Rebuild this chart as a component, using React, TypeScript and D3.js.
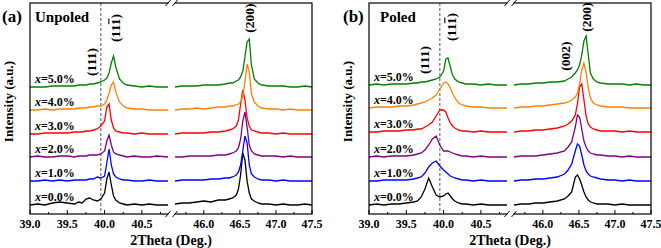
import React from 'react';
import * as d3 from 'd3';

// 2theta sampling points of the two axis segments (denser around the peaks)
const leftTheta = [39.0, 39.1, 39.2, 39.3, 39.4, 39.5, 39.6, 39.65, 39.7, 39.75, 39.8, 39.85, 39.9, 39.95,
  40.0, 40.03, 40.06, 40.09, 40.12, 40.15, 40.2, 40.25, 40.3, 40.4, 40.5, 40.6, 40.7, 40.85];
const rightTheta = [45.6, 45.7, 45.8, 45.9, 46.0, 46.1, 46.2, 46.3, 46.35, 46.4, 46.45, 46.48, 46.51, 46.54,
  46.57, 46.6, 46.63, 46.66, 46.7, 46.75, 46.8, 46.9, 47.0, 47.1, 47.2, 47.3, 47.4, 47.5];

const concentrations = ['0.0', '1.0', '2.0', '3.0', '4.0', '5.0'];
const colors = ['#000000', '#0000ff', '#800080', '#ff0000', '#ff8000', '#008000'];

const leftTicks = [39.0, 39.5, 40.0, 40.5];
const leftMinor = [39.25, 39.75, 40.25, 40.75];
const rightTicks = [46.0, 46.5, 47.0, 47.5];
const rightMinor = [45.75, 46.25, 46.75, 47.25];

// stacking offsets (a.u.)
const unpoledOffsets = [9, 33, 57, 80, 104, 127];
const poledOffsets = [9, 33, 57, 82, 106, 129];

const unpoledLeft = [
  [0, 1, 0, 2, 3, 2, 1, 3, 2, 6, 7, 5, 4, 6, 12, 26, 33, 20, 9, 5, 2, 1, 0, 1, 0, 1, 0, 0],
  [0, 0, 1, 0, 1, 0, 1, 1, 1, 1, 2, 2, 4, 3, 5, 18, 32, 16, 7, 4, 2, 1, 1, 0, 0, 1, 0, 0],
  [0, 1, 0, 0, 1, 1, 0, 1, 1, 1, 2, 2, 2, 3, 6, 16, 22, 12, 5, 3, 2, 1, 0, 1, 0, 0, 1, 0],
  [0, 0, 1, 1, 1, 1, 2, 2, 2, 3, 3, 4, 5, 8, 13, 27, 30, 14, 6, 3, 2, 1, 1, 0, 1, 0, 0, 0],
  [0, 0, 1, 0, 1, 1, 1, 2, 2, 2, 3, 3, 4, 4, 6, 10, 17, 25, 28, 18, 8, 4, 2, 1, 1, 0, 0, 0],
  [0, 0, 0, 1, 1, 1, 1, 2, 2, 2, 3, 3, 4, 5, 7, 9, 14, 24, 31, 20, 8, 4, 2, 1, 0, 1, 0, 0],
];
const unpoledRight = [
  [1, 2, 2, 3, 4, 3, 5, 5, 6, 7, 10, 16, 30, 52, 45, 24, 12, 6, 4, 2, 1, 1, 0, 1, 0, 0, 1, 0],
  [0, 1, 1, 1, 1, 2, 2, 3, 3, 4, 6, 9, 16, 30, 45, 38, 16, 7, 4, 2, 1, 1, 0, 1, 0, 0, 0, 0],
  [0, 0, 1, 1, 1, 1, 2, 2, 3, 4, 6, 9, 18, 36, 45, 30, 12, 6, 3, 2, 1, 1, 1, 0, 1, 0, 0, 0],
  [0, 1, 1, 1, 1, 2, 2, 3, 4, 5, 8, 14, 30, 44, 34, 16, 8, 4, 3, 2, 1, 1, 0, 1, 0, 0, 0, 0],
  [0, 1, 1, 2, 1, 2, 3, 3, 4, 4, 5, 6, 8, 14, 28, 46, 38, 16, 8, 4, 2, 1, 1, 0, 1, 0, 0, 0],
  [0, 1, 1, 1, 2, 2, 2, 3, 4, 4, 6, 7, 10, 16, 30, 45, 48, 22, 8, 4, 2, 1, 1, 1, 0, 0, 1, 0],
];
const poledLeft = [
  [0, 1, 0, 1, 1, 2, 3, 4, 8, 16, 27, 18, 10, 8, 9, 11, 12, 9, 6, 4, 2, 1, 1, 0, 1, 0, 0, 0],
  [0, 0, 1, 1, 1, 1, 2, 3, 4, 8, 14, 18, 20, 15, 11, 9, 7, 5, 4, 3, 2, 1, 1, 0, 1, 0, 0, 0],
  [0, 1, 0, 1, 1, 1, 2, 3, 4, 7, 12, 18, 21, 12, 6, 6, 6, 5, 4, 3, 2, 1, 1, 0, 1, 0, 0, 0],
  [0, 0, 1, 1, 1, 2, 2, 3, 3, 5, 7, 10, 16, 22, 22, 20, 14, 9, 6, 4, 2, 1, 1, 0, 1, 0, 0, 0],
  [0, 1, 1, 1, 2, 2, 3, 4, 5, 6, 8, 10, 13, 19, 25, 26, 24, 20, 15, 10, 5, 3, 2, 1, 1, 0, 0, 0],
  [0, 1, 0, 1, 1, 1, 2, 2, 3, 3, 4, 5, 6, 8, 14, 26, 27, 18, 10, 6, 3, 2, 1, 1, 0, 1, 0, 0],
];
const poledRight = [
  [0, 1, 1, 2, 2, 3, 4, 6, 9, 13, 28, 30, 26, 20, 13, 8, 5, 3, 2, 1, 1, 1, 0, 1, 0, 0, 0, 0],
  [0, 1, 1, 2, 2, 3, 4, 7, 11, 17, 30, 37, 35, 26, 16, 10, 7, 5, 4, 3, 2, 1, 1, 0, 1, 0, 0, 0],
  [0, 1, 1, 1, 2, 3, 4, 6, 10, 15, 30, 42, 40, 28, 16, 10, 6, 4, 3, 2, 2, 1, 1, 0, 1, 0, 0, 0],
  [0, 1, 1, 2, 2, 3, 4, 6, 8, 11, 17, 28, 45, 48, 32, 16, 8, 5, 3, 2, 1, 1, 1, 0, 1, 0, 0, 0],
  [0, 1, 1, 2, 2, 3, 4, 5, 6, 8, 11, 15, 24, 38, 45, 36, 20, 10, 5, 3, 2, 1, 1, 1, 0, 0, 0, 0],
  [0, 1, 1, 2, 2, 3, 3, 4, 6, 8, 12, 15, 20, 30, 44, 49, 30, 12, 6, 3, 2, 1, 1, 1, 0, 1, 0, 0],
];

// peak labels: [theta, intensity, text, overline on last 1]
const unpoledPeaks: [number, number, string, boolean][] = [
  [39.82, 152, '(111)', false],
  [40.14, 186, '(111)', true],
  [46.64, 196, '(200)', false],
];
const poledPeaks: [number, number, string, boolean][] = [
  [39.75, 154, '(111)', false],
  [40.1, 187, '(111)', true],
  [46.31, 158, '(002)', false],
  [46.6, 197, '(200)', false],
];

const dashTheta = 39.95;

const FONT = "'Liberation Serif', 'Times New Roman', serif";
const W = 282;
const H = 211;
const PEAK_FS = 13.5;

const xLeft = d3.scaleLinear([39.0, 40.85], [0, 138]);
const xRight = d3.scaleLinear([45.6, 47.5], [145, W]);
const y = d3.scaleLinear([0, H], [H, 0]);
const xAny = (t: number) => (t < 43 ? xLeft(t) : xRight(t));

function BreakMark({ x, y0 }: { x: number; y0: number }) {
  return (
    <g>
      <rect x={x - 3} y={y0 - 2} width={6} height={4} fill="#fff" />
      <line x1={x - 6} y1={y0 + 3} x2={x - 1} y2={y0 - 3} stroke="#000" strokeWidth={1} />
      <line x1={x + 1} y1={y0 + 3} x2={x + 6} y2={y0 - 3} stroke="#000" strokeWidth={1} />
    </g>
  );
}

function Panel({ dx, letter, letterX, title, titleX, left, right, offsets, peaks }: any) {
  const lineL = d3.line<number>().x((_, i) => xLeft(leftTheta[i]));
  const lineR = d3.line<number>().x((_, i) => xRight(rightTheta[i]));
  const gapX = (xLeft.range()[1] + xRight.range()[0]) / 2;
  return (
    <g transform={`translate(${dx},0)`} fontFamily={FONT} fontWeight="bold">
      <text x={letterX} y={22} fontSize={17}>{letter}</text>
      <g transform="translate(30,3)">
        <text x={titleX} y={19} fontSize={15}>{title}</text>
        <line x1={xLeft(dashTheta)} x2={xLeft(dashTheta)} y1={0} y2={H} stroke="#555" strokeWidth={1} strokeDasharray="3,2" />
        {concentrations.map((c, k) => {
          const off = offsets[k];
          const yy = (v: number) => y(v + off);
          return (
            <g key={c}>
              <path d={lineL.y((v) => yy(v))(left[k]) || ''} fill="none" stroke={colors[k]} strokeWidth={1.3} />
              <path d={lineR.y((v) => yy(v))(right[k]) || ''} fill="none" stroke={colors[k]} strokeWidth={1.3} />
              <text x={5} y={y(off) - 4} fontSize={12}>
                <tspan fontStyle="italic">x</tspan>={c}%
              </text>
            </g>
          );
        })}
        {peaks.map(([t, v, label, bar]: [number, number, string, boolean], i: number) => (
          <g key={i} transform={`translate(${xAny(t)},${y(v)}) rotate(-90)`}>
            <text x={0} y={PEAK_FS * 0.33} textAnchor="middle" fontSize={PEAK_FS}>{label}</text>
            {bar && (
              <line x1={PEAK_FS * 0.27} x2={PEAK_FS * 0.7} y1={-PEAK_FS * 0.46} y2={-PEAK_FS * 0.46}
                stroke="#000" strokeWidth={1.1} />
            )}
          </g>
        ))}
        <rect x={0} y={0} width={W} height={H} fill="none" stroke="#000" strokeWidth={1.2} />
        {leftTicks.map((t) => (
          <g key={t}>
            <line x1={xLeft(t)} x2={xLeft(t)} y1={H} y2={H - 4} stroke="#000" />
            <text x={xLeft(t)} y={H + 14} textAnchor="middle" fontSize={12}>{t.toFixed(1)}</text>
          </g>
        ))}
        {rightTicks.map((t) => (
          <g key={t}>
            <line x1={xRight(t)} x2={xRight(t)} y1={H} y2={H - 4} stroke="#000" />
            <text x={xRight(t)} y={H + 14} textAnchor="middle" fontSize={12}>{t.toFixed(1)}</text>
          </g>
        ))}
        {leftMinor.map((t) => (
          <line key={t} x1={xLeft(t)} x2={xLeft(t)} y1={H} y2={H - 2} stroke="#000" />
        ))}
        {rightMinor.map((t) => (
          <line key={t} x1={xRight(t)} x2={xRight(t)} y1={H} y2={H - 2} stroke="#000" />
        ))}
        <BreakMark x={gapX} y0={0} />
        <BreakMark x={gapX} y0={H} />
        <text x={W / 2} y={H + 31} textAnchor="middle" fontSize={14}>2Theta (Deg.)</text>
        <text transform={`translate(-17,${H / 2 - 7}) rotate(-90)`} textAnchor="middle" fontSize={13}>Intensity (a.u.)</text>
      </g>
    </g>
  );
}

export default function App() {
  return (
    <svg width={661} height={248} style={{ position: 'absolute', left: 0, top: 0, background: '#fff' }}>
      <Panel dx={0} letter="(a)" letterX={2} title="Unpoled" titleX={5} left={unpoledLeft} right={unpoledRight}
        offsets={unpoledOffsets} peaks={unpoledPeaks} />
      <Panel dx={339} letter="(b)" letterX={4} title="Poled" titleX={11} left={poledLeft} right={poledRight}
        offsets={poledOffsets} peaks={poledPeaks} />
    </svg>
  );
}
